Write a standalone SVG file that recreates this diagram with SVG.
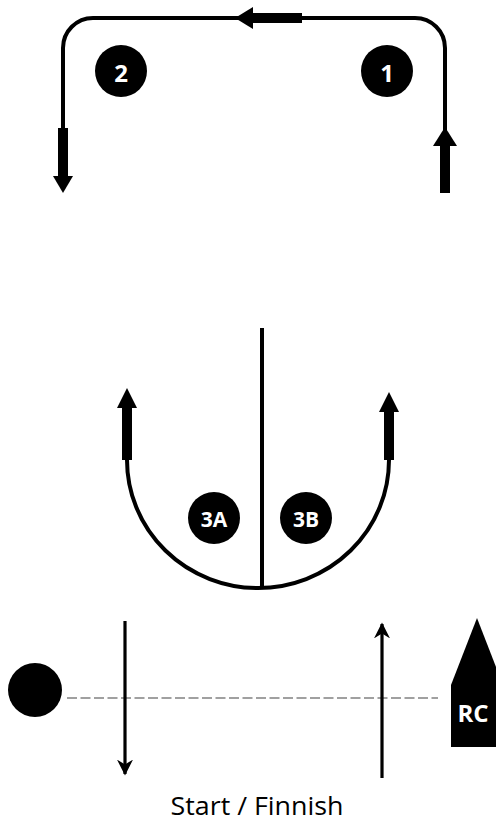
<svg xmlns="http://www.w3.org/2000/svg" width="496" height="824" viewBox="0 0 496 824">
<style>
.ln{fill:none;stroke:#000;stroke-width:4}
.bar{fill:#000}
.mk{fill:#000}
.lbl{font-family:"Open Sans","Noto Sans",sans-serif;font-weight:bold;fill:#fff;text-anchor:middle}
.cap{font-family:"Open Sans","Noto Sans",sans-serif;fill:#000;text-anchor:middle}
</style>
<defs>
<marker id="ah" viewBox="0 0 10 10" refX="9" refY="5" markerWidth="5" markerHeight="5" orient="auto" markerUnits="strokeWidth">
<path d="M0,0 L10,5 L0,10 L3,5 Z" fill="#000"/>
</marker>
</defs>
<rect width="496" height="824" fill="#fff"/>
<g id="connectors">
<path class="ln" d="M445,193 V48 A30,30 0 0 0 415,18 H93 A30,30 0 0 0 63,48 V185"/>
<rect class="bar" x="440" y="145" width="10" height="48"/>
<polygon class="mk" points="445,127 457,146 433,146"/>
<rect class="bar" x="251" y="13" width="51" height="10"/>
<polygon class="mk" points="235,18 253,7 253,29"/>
<rect class="bar" x="58" y="128" width="10" height="50"/>
<polygon class="mk" points="63,193 53,176 73,176"/>
<path class="ln" d="M127,460 A131,128 0 0 0 389,460"/>
<line class="ln" x1="262" y1="328" x2="262" y2="586"/>
<rect class="bar" x="122" y="406" width="10" height="54"/>
<polygon class="mk" points="127,388 137,408 117,408"/>
<rect class="bar" x="384" y="410" width="10" height="50"/>
<polygon class="mk" points="389,392 399,412 379,412"/>
<line x1="67" y1="698" x2="438" y2="698" stroke="#a0a0a0" stroke-width="2" stroke-dasharray="10,3.5"/>
<line x1="125" y1="621" x2="125" y2="774" stroke="#000" stroke-width="3.2" marker-end="url(#ah)"/>
<line x1="382" y1="778" x2="382" y2="624" stroke="#000" stroke-width="3.2" marker-end="url(#ah)"/>
</g>
<g id="mark1">
<circle cx="387" cy="71" r="26" fill="#000"/>
<text class="lbl" x="387" y="82" font-size="24">1</text>
</g>
<g id="mark2">
<circle cx="121" cy="71" r="26" fill="#000"/>
<text class="lbl" x="121" y="82" font-size="24">2</text>
</g>
<g id="mark3A">
<circle cx="214" cy="518" r="26" fill="#000"/>
<text class="lbl" x="214" y="527" font-size="21">3A</text>
</g>
<g id="mark3B">
<circle cx="306" cy="518" r="26" fill="#000"/>
<text class="lbl" x="306" y="527" font-size="21">3B</text>
</g>
<g id="pin">
<circle cx="35" cy="690" r="27" fill="#000"/>
</g>
<g id="rc">
<polygon points="477,618 503,685 503,747 451,747 451,685" fill="#000"/>
<text class="lbl" x="473" y="722" font-size="24">RC</text>
</g>
<g id="caption">
<text class="cap" x="257" y="815" font-size="26" textLength="173" lengthAdjust="spacingAndGlyphs">Start / Finnish</text>
</g>
</svg>
